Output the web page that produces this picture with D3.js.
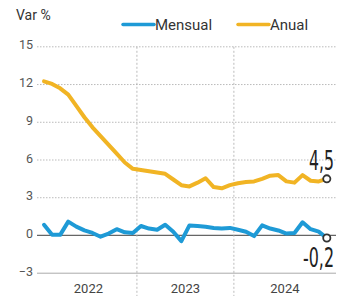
<!DOCTYPE html>
<html><head><meta charset="utf-8">
<script src="https://cdn.jsdelivr.net/npm/d3@7"></script>
<style>html,body{margin:0;padding:0;background:#fff;}svg{display:block;}</style>
</head><body>
<script>
const years = ["2022","2023","2024"];
const months = d3.range(36).map(i => years[Math.floor(i/12)] + "-" + String(i%12+1).padStart(2,"0"));
const anual = [12.25,12.05,11.7,11.2,10.3,9.4,8.6,7.9,7.2,6.5,5.8,5.3,5.2,5.1,5.0,4.9,4.45,4.0,3.9,4.2,4.55,3.85,3.75,4.0,4.15,4.25,4.3,4.5,4.75,4.8,4.3,4.2,4.8,4.35,4.3,4.5];
const mensual = [0.85,0.05,0.05,1.1,0.7,0.4,0.2,-0.1,0.15,0.5,0.25,0.2,0.75,0.55,0.45,0.85,0.3,-0.45,0.8,0.75,0.7,0.6,0.55,0.6,0.45,0.3,-0.05,0.8,0.55,0.4,0.15,0.2,1.05,0.5,0.3,-0.2];
const yTicks = [15,12,9,6,3,0,-3];
const lastAnualLabel = "4,5";
const lastMensualLabel = "-0,2";

const W = 348, H = 296;
const BLUE = "#1e9ad6", YELLOW = "#f1b424";
const svg = d3.select("body").append("svg").attr("width", W).attr("height", H);

const x = d3.scaleLinear().domain([0, 35]).range([44, 326.8]);
const y = d3.scaleLinear().domain([-3, 15]).range([273.2, 46.8]);
const xL = 37, xR = 336;

// Gridlines
const g = svg.append("g");
yTicks.forEach(t => {
  const line = g.append("line").attr("x1", xL).attr("x2", xR).attr("y1", y(t)).attr("y2", y(t));
  if (t === 0) line.attr("stroke", "#666").attr("stroke-width", 1.2);
  else if (t === -3) line.attr("stroke", "#aaa").attr("stroke-width", 1);
  else line.attr("stroke", "#aaa").attr("stroke-width", 0.8).attr("stroke-dasharray", "1.5,1.5");
});
// Year separators
[11.5, 23.5].forEach(v => {
  g.append("line").attr("x1", x(v)).attr("x2", x(v)).attr("y1", y(15)).attr("y2", H)
    .attr("stroke", "#aaa").attr("stroke-width", 0.8).attr("stroke-dasharray", "2,2");
});

// Y labels
const yAxis = d3.axisLeft(y).tickValues(yTicks).tickSize(0).tickPadding(0).tickFormat(d3.format("d"));
const ya = svg.append("g").attr("transform", `translate(33,-2)`).call(yAxis);
ya.select(".domain").remove();
ya.selectAll("text").attr("font-family", "Roboto, sans-serif").attr("font-size", 12.5).attr("fill", "#555");

// X labels (years)
const xYear = years.map((yr, k) => ({yr, c: k*12 + 5.5}));
svg.append("g").selectAll("text").data(xYear).join("text")
  .attr("x", d => d.c === 29.5 ? (x(23.5) + xR)/2 : x(d.c)).attr("y", 293)
  .attr("text-anchor", "middle").attr("font-family", "Roboto, sans-serif").attr("font-size", 13)
  .attr("fill", "#444").text(d => d.yr);

// Lines
const lineGen = d3.line().x((d, i) => x(i)).y(d => y(d)).curve(d3.curveLinear);
svg.append("path").datum(anual).attr("d", lineGen).attr("fill", "none")
  .attr("stroke", YELLOW).attr("stroke-width", 4).attr("stroke-linejoin", "round").attr("stroke-linecap", "round");
svg.append("path").datum(mensual).attr("d", lineGen).attr("fill", "none")
  .attr("stroke", BLUE).attr("stroke-width", 4).attr("stroke-linejoin", "round").attr("stroke-linecap", "round");

// End markers
[[anual, lastAnualLabel, -9], [mensual, lastMensualLabel, 29]].forEach(([arr, lab, dy]) => {
  const n = arr.length - 1;
  svg.append("circle").attr("cx", x(n)).attr("cy", y(arr[n])).attr("r", 3.6)
    .attr("fill", "#fff").attr("stroke", "#333").attr("stroke-width", 1.8);
  svg.append("text").attr("x", 334).attr("y", y(arr[n]) + dy).attr("text-anchor", "end")
    .attr("font-family", "'Liberation Sans Narrow', 'DejaVu Sans Condensed', sans-serif")
    .attr("font-size", 26).attr("fill", "#222")
    .attr("textLength", lab.length === 3 ? 25 : 31).attr("lengthAdjust", "spacingAndGlyphs")
    .text(lab);
});

// Var %
svg.append("text").attr("x", 16).attr("y", 20).attr("font-family", "Roboto, sans-serif")
  .attr("font-size", 14).attr("fill", "#333").text("Var %");

// Legend
const legend = [{name: "Mensual", color: BLUE, x0: 123}, {name: "Anual", color: YELLOW, x0: 238}];
legend.forEach(l => {
  svg.append("line").attr("x1", l.x0).attr("x2", l.x0 + 31).attr("y1", 24.5).attr("y2", 24.5)
    .attr("stroke", l.color).attr("stroke-width", 3.5).attr("stroke-linecap", "round");
  svg.append("text").attr("x", l.x0 + 32).attr("y", 30).attr("font-family", "Roboto, sans-serif")
    .attr("font-size", 15).attr("fill", "#333").text(l.name);
});
</script>
</body></html>
